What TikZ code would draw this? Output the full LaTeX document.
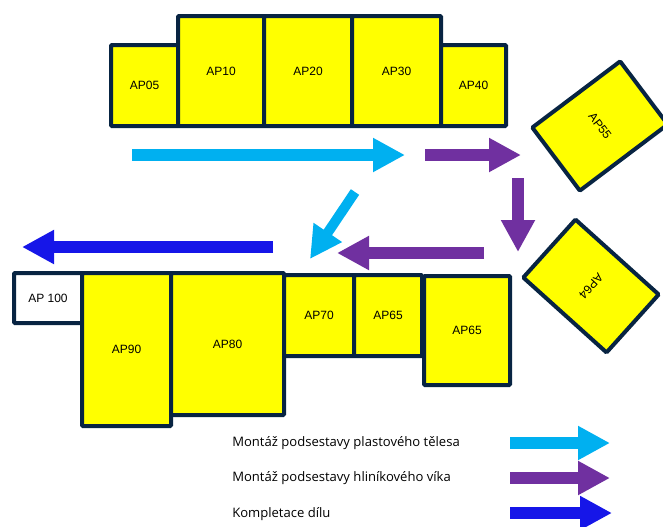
\documentclass[tikz,border=0pt]{standalone}
\usepackage{fontspec}
\setmainfont{Liberation Sans}
\newfontfamily\legendfont{Open Sans}
\usetikzlibrary{arrows.meta}
\definecolor{FrameNavy}{RGB}{8,36,66}
\definecolor{StationYellow}{RGB}{255,255,0}
\definecolor{PlasticCyan}{RGB}{0,176,240}
\definecolor{LidPurple}{RGB}{112,48,160}
\definecolor{FinalBlue}{RGB}{22,22,232}

\begin{document}
\begin{tikzpicture}[x=0.75pt, y=-0.75pt,
    station/.style 2 args={draw=FrameNavy, line width=3pt, fill=StationYellow,
        rounded corners=0.8pt, inner sep=0pt,
        minimum width=#1*0.75pt, minimum height=#2*0.75pt,
        font=\fontsize{9}{10}\selectfont},
    flow/.style={line width=9pt, -{Triangle[length=24pt, width=24pt]}},
    legend/.style={anchor=west, inner sep=0pt, font=\legendfont\fontsize{9.8}{11}\selectfont}]
    \useasboundingbox (0,0) rectangle (663,526);

    % Upper line of stations
    \node[station={67}{81}] (ap05) at (144.5,85.5) {AP05};
    \node[station={86}{110}] (ap10) at (221,71) {AP10};
    \node[station={88}{110}] (ap20) at (308,71) {AP20};
    \node[station={89}{110}] (ap30) at (396.5,71) {AP30};
    \node[station={65}{81}] (ap40) at (473.5,85.5) {AP40};

    % Turned stations on the right
    \node[station={79}{110}, rotate=-53] (ap55) at (600,126) {AP55};
    \node[station={78}{112}, rotate=-132] (ap64) at (591,286) {AP64};

    % Lower line of stations
    \node[station={68}{50}, fill=white] (ap100) at (48,298) {AP 100};
    \node[station={89}{153}] (ap90) at (126.5,349.5) {AP90};
    \node[station={113}{142}] (ap80) at (227.5,344) {AP80};
    \node[station={70}{81}] (ap70) at (319,315.5) {AP70};
    \node[station={68}{81}] (ap65a) at (388,315.5) {AP65};
    \node[station={86}{109}] (ap65b) at (467,330.5) {AP65};

    % Flow arrows
    \coordinate (plastic start) at (132,155);
    \coordinate (plastic end) at (405,155);
    \coordinate (plastic down start) at (355,192);
    \coordinate (plastic down end) at (310,259);
    \coordinate (lid start) at (425,155);
    \coordinate (lid end) at (521,155);
    \coordinate (lid down start) at (518,178);
    \coordinate (lid down end) at (518,252);
    \coordinate (lid back start) at (484,253);
    \coordinate (lid back end) at (337,253);
    \coordinate (final start) at (273,247);
    \coordinate (final end) at (22,247);
    \draw[flow, PlasticCyan] (plastic start) -- (plastic end);
    \draw[flow, PlasticCyan, line width=7.5pt] (plastic down start) -- (plastic down end);
    \draw[flow, LidPurple] (lid start) -- (lid end);
    \draw[flow, LidPurple] (lid down start) -- (lid down end);
    \draw[flow, LidPurple] (lid back start) -- (lid back end);
    \draw[flow, FinalBlue] (final start) -- (final end);

    % Legend
    \node[legend] (key plastic) at (232,443) {Montáž podsestavy plastového tělesa};
    \node[legend] (key lid) at (232,478) {Montáž podsestavy hliníkového víka};
    \node[legend] (key final) at (232,514) {Kompletace dílu};
    \coordinate (key plastic start) at (510,443);
    \coordinate (key plastic end) at (610,443);
    \coordinate (key lid start) at (510,478);
    \coordinate (key lid end) at (610,478);
    \coordinate (key final start) at (510,513);
    \coordinate (key final end) at (612,513);
    \draw[flow, PlasticCyan] (key plastic start) -- (key plastic end);
    \draw[flow, LidPurple] (key lid start) -- (key lid end);
    \draw[flow, FinalBlue] (key final start) -- (key final end);
\end{tikzpicture}
\end{document}
